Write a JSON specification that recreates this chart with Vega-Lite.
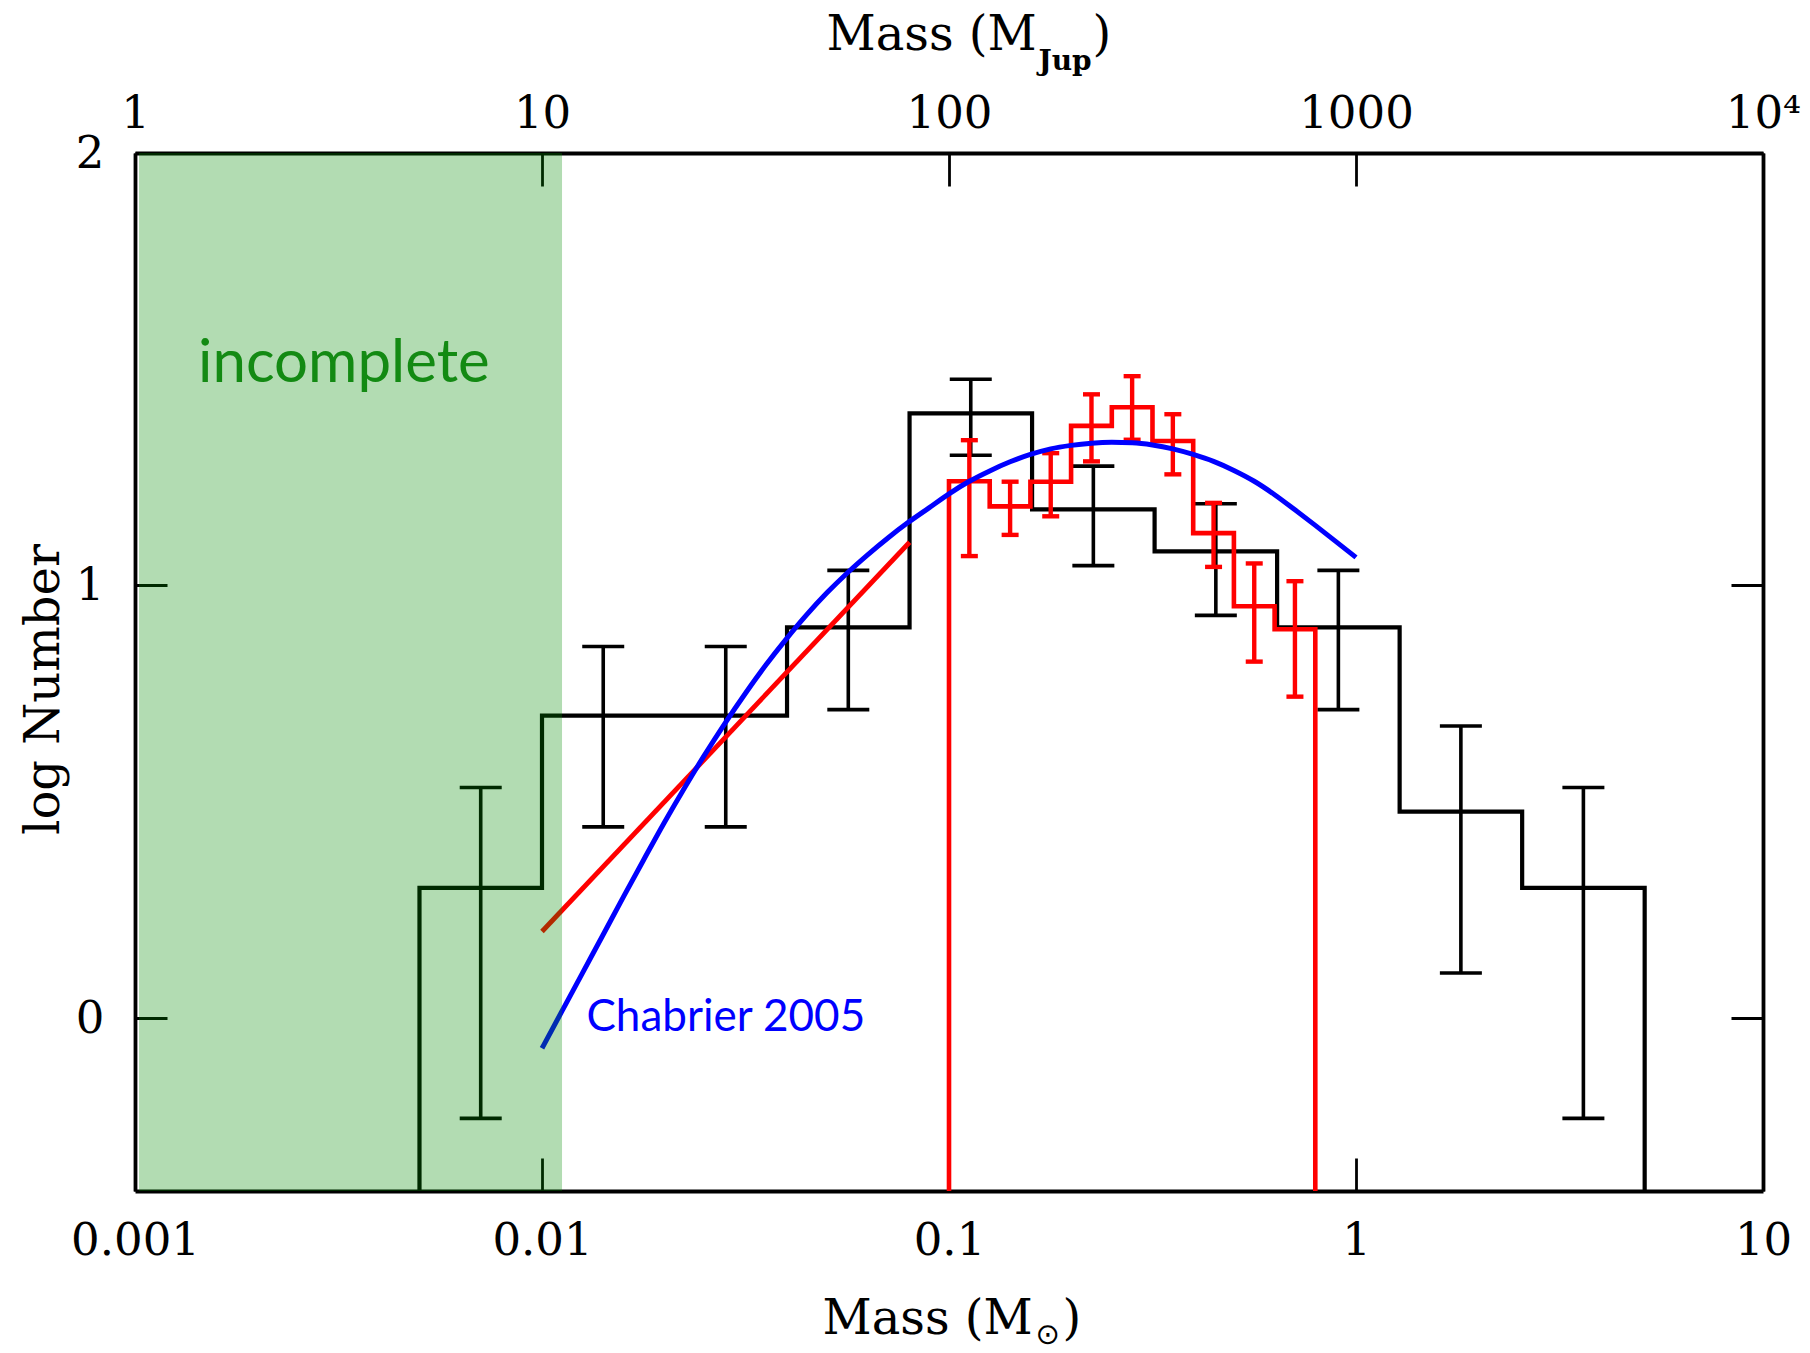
{
  "$schema": "https://vega.github.io/schema/vega-lite/v6.json",
  "width": 1628,
  "height": 1038,
  "autosize": {"type": "none"},
  "padding": {"left": 135, "top": 153, "right": 47, "bottom": 162},
  "background": "white",
  "config": {
    "view": {"stroke": null},
    "axis": {
      "grid": false,
      "domainColor": "black",
      "domainWidth": 3.8,
      "tickColor": "black",
      "tickWidth": 2.8,
      "labelColor": "black",
      "titleColor": "black",
      "labelFont": "DejaVu Serif",
      "labelFontSize": 45,
      "titleFont": "DejaVu Serif",
      "titleFontSize": 48,
      "titleFontWeight": "normal",
      "labelFlush": false,
      "labelOverlap": false,
      "labelBound": false
    }
  },
  "datasets": {
    "sampleHist": [
      {"i": 0, "m": 0.005, "logN": -1},
      {"i": 1, "m": 0.005, "logN": 0.301},
      {"i": 2, "m": 0.01, "logN": 0.699},
      {"i": 3, "m": 0.02, "logN": 0.699},
      {"i": 4, "m": 0.04, "logN": 0.903},
      {"i": 5, "m": 0.08, "logN": 1.398},
      {"i": 6, "m": 0.16, "logN": 1.176},
      {"i": 7, "m": 0.32, "logN": 1.079},
      {"i": 8, "m": 0.64, "logN": 0.903},
      {"i": 9, "m": 1.28, "logN": 0.477},
      {"i": 10, "m": 2.56, "logN": 0.301},
      {"i": 11, "m": 5.12, "logN": -1}
    ],
    "sampleErr": [
      {"m": 0.00707, "lo": -0.232, "hi": 0.533},
      {"m": 0.01414, "lo": 0.442, "hi": 0.859},
      {"m": 0.02828, "lo": 0.442, "hi": 0.859},
      {"m": 0.05657, "lo": 0.713, "hi": 1.035},
      {"m": 0.1131, "lo": 1.301, "hi": 1.477},
      {"m": 0.2263, "lo": 1.046, "hi": 1.276},
      {"m": 0.4525, "lo": 0.931, "hi": 1.189},
      {"m": 0.9051, "lo": 0.713, "hi": 1.035},
      {"m": 1.81, "lo": 0.104, "hi": 0.675},
      {"m": 3.62, "lo": -0.232, "hi": 0.533}
    ],
    "fieldHist": [
      {"i": 0, "m": 0.1, "logN": -1},
      {"i": 1, "m": 0.1, "logN": 1.241},
      {"i": 2, "m": 0.1259, "logN": 1.183},
      {"i": 3, "m": 0.1585, "logN": 1.240},
      {"i": 4, "m": 0.1995, "logN": 1.369},
      {"i": 5, "m": 0.2512, "logN": 1.412},
      {"i": 6, "m": 0.3162, "logN": 1.334},
      {"i": 7, "m": 0.3981, "logN": 1.121},
      {"i": 8, "m": 0.5012, "logN": 0.952},
      {"i": 9, "m": 0.631, "logN": 0.899},
      {"i": 10, "m": 0.7943, "logN": -1}
    ],
    "fieldErr": [
      {"m": 0.1122, "lo": 1.068, "hi": 1.336},
      {"m": 0.1413, "lo": 1.117, "hi": 1.240},
      {"m": 0.1778, "lo": 1.160, "hi": 1.306},
      {"m": 0.2239, "lo": 1.287, "hi": 1.442},
      {"m": 0.2818, "lo": 1.337, "hi": 1.484},
      {"m": 0.3548, "lo": 1.257, "hi": 1.396},
      {"m": 0.4467, "lo": 1.043, "hi": 1.191},
      {"m": 0.5623, "lo": 0.824, "hi": 1.051},
      {"m": 0.7079, "lo": 0.743, "hi": 1.010}
    ],
    "powerLaw": [
      {"m": 0.01, "logN": 0.2},
      {"m": 0.08, "logN": 1.1}
    ],
    "chabrier": [
      {"m": 0.01, "logN": -0.07},
      {"m": 0.01122, "logN": 0.0175},
      {"m": 0.01259, "logN": 0.105},
      {"m": 0.01413, "logN": 0.1925},
      {"m": 0.01585, "logN": 0.28},
      {"m": 0.01778, "logN": 0.366},
      {"m": 0.01995, "logN": 0.451},
      {"m": 0.02239, "logN": 0.532},
      {"m": 0.02512, "logN": 0.609},
      {"m": 0.02818, "logN": 0.682},
      {"m": 0.03162, "logN": 0.751},
      {"m": 0.03548, "logN": 0.816},
      {"m": 0.03981, "logN": 0.876},
      {"m": 0.04467, "logN": 0.932},
      {"m": 0.05012, "logN": 0.983},
      {"m": 0.05623, "logN": 1.029},
      {"m": 0.0631, "logN": 1.071},
      {"m": 0.07079, "logN": 1.11},
      {"m": 0.07943, "logN": 1.146},
      {"m": 0.08913, "logN": 1.179},
      {"m": 0.1, "logN": 1.212},
      {"m": 0.1122, "logN": 1.241},
      {"m": 0.1259, "logN": 1.265},
      {"m": 0.1413, "logN": 1.286},
      {"m": 0.1585, "logN": 1.303},
      {"m": 0.1778, "logN": 1.316},
      {"m": 0.1995, "logN": 1.324},
      {"m": 0.2239, "logN": 1.329},
      {"m": 0.2512, "logN": 1.331},
      {"m": 0.2818, "logN": 1.33},
      {"m": 0.3162, "logN": 1.325},
      {"m": 0.3548, "logN": 1.316},
      {"m": 0.3981, "logN": 1.303},
      {"m": 0.4467, "logN": 1.287},
      {"m": 0.5012, "logN": 1.266},
      {"m": 0.5623, "logN": 1.241},
      {"m": 0.631, "logN": 1.21},
      {"m": 0.7079, "logN": 1.175},
      {"m": 0.7943, "logN": 1.139},
      {"m": 0.8913, "logN": 1.102},
      {"m": 1.0, "logN": 1.065}
    ],
    "incompleteZone": [
      {"from": 0.001023, "to": 0.0112}
    ],
    "notes": [
      {"m": 0.00326, "logN": 1.47, "label": "incomplete", "kind": "zone"},
      {"m": 0.01286, "logN": -0.03, "label": "Chabrier 2005", "kind": "model"}
    ]
  },
  "layer": [
    {
      "data": {"name": "sampleHist"},
      "mark": {"type": "line", "interpolate": "step-after", "color": "black", "strokeWidth": 4.2, "strokeJoin": "miter", "clip": true},
      "encoding": {
        "x": {
          "field": "m", "type": "quantitative",
          "scale": {"type": "log", "domain": [0.001, 10], "nice": false},
          "axis": {
            "orient": "bottom", "values": [0.001, 0.01, 0.1, 1, 10], "format": "~g",
            "tickSize": -33, "labelPadding": 60,
            "title": "Mass  (M", "titleX": 687, "titleY": 142, "titleAlign": "left", "titleBaseline": "alphabetic"
          }
        },
        "y": {
          "field": "logN", "type": "quantitative",
          "scale": {"domain": [-0.4, 2], "nice": false, "zero": false},
          "axis": {
            "orient": "left", "values": [0, 1, 2],
            "tickSize": -32, "labelPadding": 63,
            "title": "log Number", "titleAngle": 270, "titleX": -77, "titleY": 536, "titleAlign": "center", "titleBaseline": "alphabetic"
          }
        },
        "order": {"field": "i", "type": "quantitative"}
      }
    },
    {
      "data": {"name": "sampleErr"},
      "mark": {"type": "rule", "color": "black", "strokeWidth": 3.6},
      "encoding": {
        "x": {
          "field": "m", "type": "quantitative",
          "scale": {"type": "log", "domain": [0.001, 10], "nice": false},
          "axis": {
            "orient": "top", "values": [0.001, 0.01, 0.1, 1, 10],
            "labelExpr": "datum.value >= 10 ? '10\u2074' : format(datum.value * 1000, '.0f')",
            "tickSize": -33, "labelPadding": 50,
            "title": "Mass  (M", "titleX": 691, "titleY": -103.5, "titleAlign": "left", "titleBaseline": "alphabetic"
          }
        },
        "y": {
          "field": "lo", "type": "quantitative",
          "scale": {"domain": [-0.4, 2], "nice": false, "zero": false},
          "axis": {"orient": "right", "values": [0, 1, 2], "tickSize": -32, "labels": false, "title": null}
        },
        "y2": {"field": "hi"}
      }
    },
    {
      "data": {"name": "sampleErr"},
      "mark": {"type": "tick", "orient": "horizontal", "size": 42, "thickness": 3.6, "color": "black", "opacity": 1},
      "encoding": {
        "x": {
          "field": "m", "type": "quantitative",
          "scale": {"type": "log", "domain": [0.001, 10], "nice": false},
          "axis": {
            "orient": "top", "labels": false, "ticks": false, "domain": false,
            "title": "Jup", "titleFontSize": 28, "titleFontWeight": "bold",
            "titleX": 903, "titleY": -83.5, "titleAlign": "left", "titleBaseline": "alphabetic"
          }
        },
        "y": {"field": "lo", "type": "quantitative", "scale": {"domain": [-0.4, 2], "nice": false, "zero": false}, "axis": null}
      }
    },
    {
      "data": {"name": "sampleErr"},
      "mark": {"type": "tick", "orient": "horizontal", "size": 42, "thickness": 3.6, "color": "black", "opacity": 1},
      "encoding": {
        "x": {
          "field": "m", "type": "quantitative",
          "scale": {"type": "log", "domain": [0.001, 10], "nice": false},
          "axis": {
            "orient": "top", "labels": false, "ticks": false, "domain": false,
            "title": ")", "titleX": 957, "titleY": -103.5, "titleAlign": "left", "titleBaseline": "alphabetic"
          }
        },
        "y": {"field": "hi", "type": "quantitative", "scale": {"domain": [-0.4, 2], "nice": false, "zero": false}, "axis": null}
      }
    },
    {
      "data": {"name": "fieldHist"},
      "mark": {"type": "line", "interpolate": "step-after", "color": "#ff0000", "strokeWidth": 4.6, "strokeJoin": "miter", "clip": true},
      "encoding": {
        "x": {
          "field": "m", "type": "quantitative",
          "scale": {"type": "log", "domain": [0.001, 10], "nice": false},
          "axis": {
            "orient": "bottom", "labels": false, "ticks": false, "domain": false,
            "title": "\u2299", "titleFont": "DejaVu Sans", "titleFontSize": 29,
            "titleX": 900, "titleY": 143, "titleAlign": "left", "titleBaseline": "middle"
          }
        },
        "y": {"field": "logN", "type": "quantitative", "scale": {"domain": [-0.4, 2], "nice": false, "zero": false}, "axis": null},
        "order": {"field": "i", "type": "quantitative"}
      }
    },
    {
      "data": {"name": "fieldErr"},
      "mark": {"type": "rule", "color": "#ff0000", "strokeWidth": 4.4},
      "encoding": {
        "x": {
          "field": "m", "type": "quantitative",
          "scale": {"type": "log", "domain": [0.001, 10], "nice": false},
          "axis": {
            "orient": "bottom", "labels": false, "ticks": false, "domain": false,
            "title": ")", "titleX": 927, "titleY": 142, "titleAlign": "left", "titleBaseline": "alphabetic"
          }
        },
        "y": {"field": "lo", "type": "quantitative", "scale": {"domain": [-0.4, 2], "nice": false, "zero": false}, "axis": null},
        "y2": {"field": "hi"}
      }
    },
    {
      "data": {"name": "fieldErr"},
      "mark": {"type": "tick", "orient": "horizontal", "size": 17, "thickness": 4.4, "color": "#ff0000", "opacity": 1},
      "encoding": {
        "x": {"field": "m", "type": "quantitative", "scale": {"type": "log", "domain": [0.001, 10], "nice": false}, "axis": null},
        "y": {"field": "lo", "type": "quantitative", "scale": {"domain": [-0.4, 2], "nice": false, "zero": false}, "axis": null}
      }
    },
    {
      "data": {"name": "fieldErr"},
      "mark": {"type": "tick", "orient": "horizontal", "size": 17, "thickness": 4.4, "color": "#ff0000", "opacity": 1},
      "encoding": {
        "x": {"field": "m", "type": "quantitative", "scale": {"type": "log", "domain": [0.001, 10], "nice": false}, "axis": null},
        "y": {"field": "hi", "type": "quantitative", "scale": {"domain": [-0.4, 2], "nice": false, "zero": false}, "axis": null}
      }
    },
    {
      "data": {"name": "powerLaw"},
      "mark": {"type": "line", "color": "#ff0000", "strokeWidth": 4.8},
      "encoding": {
        "x": {"field": "m", "type": "quantitative", "scale": {"type": "log", "domain": [0.001, 10], "nice": false}, "axis": null},
        "y": {"field": "logN", "type": "quantitative", "scale": {"domain": [-0.4, 2], "nice": false, "zero": false}, "axis": null}
      }
    },
    {
      "data": {"name": "chabrier"},
      "mark": {"type": "line", "color": "#0000ff", "strokeWidth": 5, "interpolate": "monotone"},
      "encoding": {
        "x": {"field": "m", "type": "quantitative", "scale": {"type": "log", "domain": [0.001, 10], "nice": false}, "axis": null},
        "y": {"field": "logN", "type": "quantitative", "scale": {"domain": [-0.4, 2], "nice": false, "zero": false}, "axis": null}
      }
    },
    {
      "data": {"name": "incompleteZone"},
      "mark": {"type": "rect", "color": "#008a00", "opacity": 0.3},
      "encoding": {
        "x": {"field": "from", "type": "quantitative", "scale": {"type": "log", "domain": [0.001, 10], "nice": false}, "axis": null},
        "x2": {"field": "to"}
      }
    },
    {
      "data": {"name": "notes"},
      "transform": [{"filter": "datum.kind == 'zone'"}],
      "mark": {"type": "text", "font": "Lato", "fontSize": 60, "color": "#138a13", "align": "center", "baseline": "alphabetic"},
      "encoding": {
        "x": {"field": "m", "type": "quantitative", "scale": {"type": "log", "domain": [0.001, 10], "nice": false}, "axis": null},
        "y": {"field": "logN", "type": "quantitative", "scale": {"domain": [-0.4, 2], "nice": false, "zero": false}, "axis": null},
        "text": {"field": "label"}
      }
    },
    {
      "data": {"name": "notes"},
      "transform": [{"filter": "datum.kind == 'model'"}],
      "mark": {"type": "text", "font": "Lato", "fontSize": 44, "color": "#0000ff", "align": "left", "baseline": "alphabetic"},
      "encoding": {
        "x": {"field": "m", "type": "quantitative", "scale": {"type": "log", "domain": [0.001, 10], "nice": false}, "axis": null},
        "y": {"field": "logN", "type": "quantitative", "scale": {"domain": [-0.4, 2], "nice": false, "zero": false}, "axis": null},
        "text": {"field": "label"}
      }
    }
  ],
  "resolve": {"axis": {"x": "independent", "y": "independent"}}
}
